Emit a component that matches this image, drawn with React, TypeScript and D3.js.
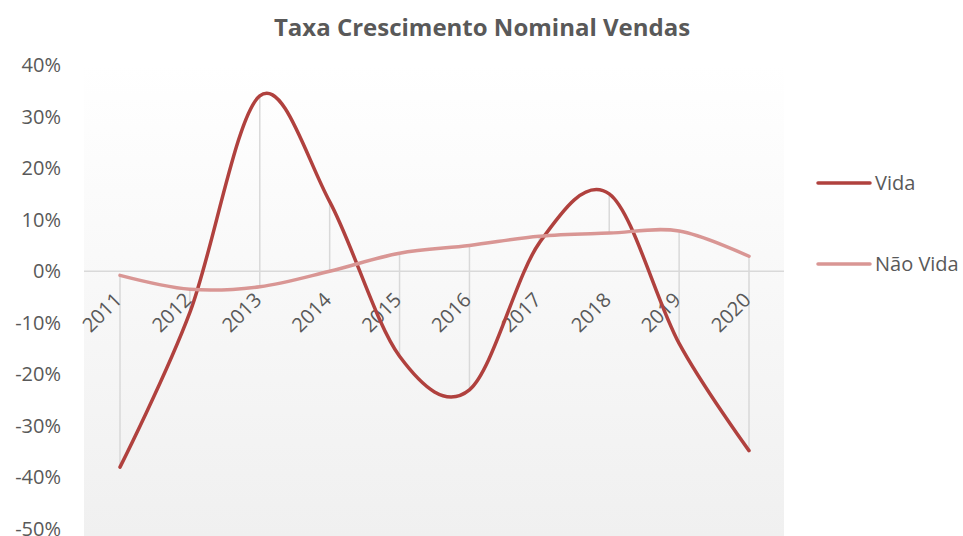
import React from "react";
import * as d3 from "d3";

const years = ["2011", "2012", "2013", "2014", "2015", "2016", "2017", "2018", "2019", "2020"];
const vida = [-0.38, -0.08, 0.34, 0.135, -0.165, -0.23, 0.055, 0.15, -0.14, -0.348];
const naoVida = [-0.008, -0.035, -0.03, 0.0, 0.035, 0.05, 0.068, 0.074, 0.078, 0.029];
const yTicks = [0.4, 0.3, 0.2, 0.1, 0, -0.1, -0.2, -0.3, -0.4, -0.5];
const seriesNames = ["Vida", "Não Vida"];
const colors = ["#B0413E", "#D99694"];

const W = 963;
const H = 536;
const font = "'Open Sans', sans-serif";
const textColor = "#595959";

export default function App() {
  const x = d3.scalePoint<string>().domain(years).range([120, 749]);
  const y = d3.scaleLinear().domain([-0.5, 0.4]).range([529, 65]);
  const line = d3
    .line<number>()
    .x((_, i) => x(years[i]) as number)
    .y((d) => y(d))
    .curve(d3.curveCardinal.tension(0));
  const series = [vida, naoVida];
  const legendY = [183, 264];

  return (
    <svg width={W} height={H} style={{ position: "absolute", left: 0, top: 0, background: "#fff" }}>
      <defs>
        <linearGradient id="bg" x1="0" y1="0" x2="0" y2="1">
          <stop offset="0" stopColor="#ffffff" />
          <stop offset="1" stopColor="#f0f0f0" />
        </linearGradient>
      </defs>
      <rect x={84} y={65} width={700} height={H - 65} fill="url(#bg)" />
      <text x={482} y={36} textAnchor="middle" fontFamily={font} fontWeight="bold" fontSize={24} fill={textColor}>
        Taxa Crescimento Nominal Vendas
      </text>
      {yTicks.map((t) => (
        <text key={t} x={61} y={y(t)} dy="0.35em" textAnchor="end" fontFamily={font} fontSize={20} fill={textColor}>
          {d3.format(".0%")(t).replace("−", "-")}
        </text>
      ))}
      <line x1={84} x2={784} y1={y(0)} y2={y(0)} stroke="#d9d9d9" strokeWidth={1.5} />
      {years.map((yr, i) => {
        const hi = Math.max(vida[i], naoVida[i]);
        const lo = Math.min(vida[i], naoVida[i]);
        return (
          <line key={yr} x1={x(yr)} x2={x(yr)} y1={y(hi)} y2={y(lo)} stroke="#d9d9d9" strokeWidth={1.5} />
        );
      })}
      {years.map((yr) => (
        <text
          key={yr}
          transform={`translate(${(x(yr) as number) + 3},${y(0) + 30}) rotate(-45)`}
          textAnchor="end"
          fontFamily={font}
          fontSize={20}
          fill={textColor}
        >
          {yr}
        </text>
      ))}
      {series.map((s, i) => (
        <path key={i} d={line(s) || ""} fill="none" stroke={colors[i]} strokeWidth={3.5} strokeLinecap="round" />
      ))}
      {seriesNames.map((n, i) => (
        <g key={n}>
          <line x1={818} x2={870} y1={legendY[i]} y2={legendY[i]} stroke={colors[i]} strokeWidth={3.5} strokeLinecap="round" />
          <text x={875} y={legendY[i]} dy="0.35em" fontFamily={font} fontSize={20} fill={textColor}>
            {n}
          </text>
        </g>
      ))}
    </svg>
  );
}
